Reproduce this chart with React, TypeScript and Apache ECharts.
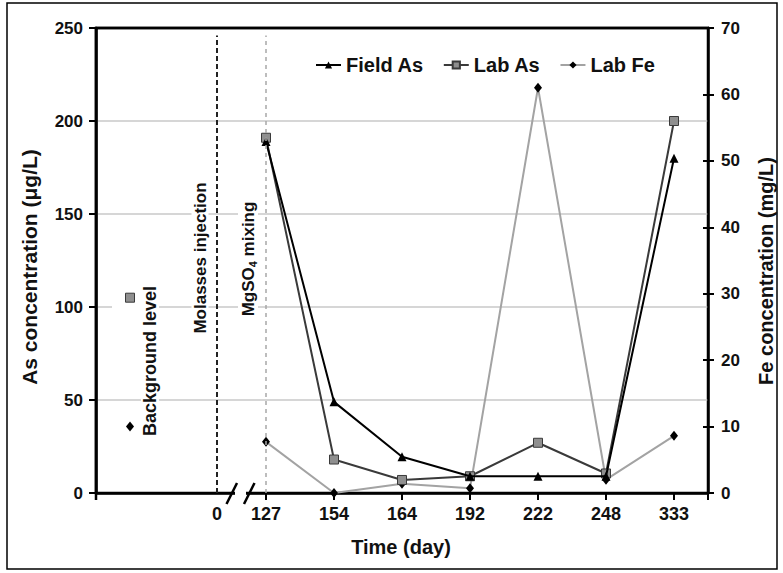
import React, { useEffect, useRef } from "react";
import * as echarts from "echarts";

// ---- data ----
const dayLabels = ["0", "127", "154", "164", "192", "222", "248", "333"];
const sampleDays = ["127", "154", "164", "192", "222", "248", "333"];
const fieldAs = [189, 49, 19.5, 9, 9, 9, 180];
const labAs = [191, 18, 7, 9, 27, 10.5, 200];
const labFe = [7.7, 0, 1.4, 0.7, 61, 2, 8.6];
const backgroundLabAs = 105;
const backgroundLabFe = 10;
const leftTicks = [0, 50, 100, 150, 200, 250];
const rightTicks = [0, 10, 20, 30, 40, 50, 60, 70];

// broken time axis: slot positions on the x scale
const backgroundSlot = 0;
const injectionSlot = 1.28;
const sampleSlots = [2, 3, 4, 5, 6, 7, 8];
const labelSlots = [injectionSlot, ...sampleSlots];

const FONT = '"Liberation Sans", Arial, Helvetica, sans-serif';
const TXT = "#111";

function buildSeriesData(vals: number[], bg: number | null) {
  const out: any[] = [];
  if (bg !== null) {
    out.push([backgroundSlot, bg]);
    out.push([injectionSlot, "-"]);
  }
  vals.forEach((v, i) => out.push([sampleSlots[i], v]));
  return out;
}

export default function App() {
  const ref = useRef<HTMLDivElement>(null);
  useEffect(() => {
    if (!ref.current) return;
    const chart = echarts.init(ref.current, undefined, { renderer: "svg" });
    const labelFor = (v: number) => {
      const idx = labelSlots.findIndex((s) => Math.abs(s - v) < 1e-6);
      return idx >= 0 ? dayLabels[idx] : "";
    };
    const option: any = {
      animation: false,
      backgroundColor: "#fff",
      textStyle: { fontFamily: FONT },
      grid: {
        left: 96,
        right: 75,
        top: 28,
        bottom: 80,
        show: true,
        borderColor: "#000",
        borderWidth: 2.5,
        backgroundColor: "transparent",
      },
      legend: {
        left: 310,
        top: 50,
        itemWidth: 25,
        itemHeight: 9,
        itemGap: 19,
        textStyle: { fontFamily: FONT, fontSize: 20, fontWeight: "bold", color: TXT },
        data: ["Field As", "Lab As", "Lab Fe"],
      },
      xAxis: {
        type: "value",
        min: -0.5,
        max: 8.5,
        axisLine: { onZero: false, lineStyle: { color: "#000", width: 2.5 } },
        axisTick: {
          show: true,
          length: 7,
          customValues: [-0.5, ...sampleSlots, 8.5],
          lineStyle: { color: "#000", width: 2 },
        },
        axisLabel: {
          customValues: labelSlots,
          formatter: (v: number) => labelFor(v),
          fontFamily: FONT,
          fontSize: 18,
          fontWeight: "bold",
          color: TXT,
          margin: 12,
        },
        splitLine: { show: false },
      },
      yAxis: [
        {
          type: "value",
          min: leftTicks[0],
          max: leftTicks[leftTicks.length - 1],
          interval: 50,
          position: "left",
          axisLine: { show: true, onZero: false, lineStyle: { color: "#000", width: 2.5 } },
          axisTick: { show: true, length: 7, lineStyle: { color: "#000", width: 2 } },
          axisLabel: { fontFamily: FONT, fontSize: 17, fontWeight: "bold", color: TXT, margin: 13 },
          splitLine: {
            show: true,
            showMinLine: false,
            showMaxLine: false,
            lineStyle: { color: "#c8c8c8", width: 1.5 },
          },
        },
        {
          type: "value",
          min: rightTicks[0],
          max: rightTicks[rightTicks.length - 1],
          interval: 10,
          position: "right",
          axisLine: { show: true, onZero: false, lineStyle: { color: "#000", width: 2.5 } },
          axisTick: { show: true, length: 6, lineStyle: { color: "#000", width: 2 } },
          axisLabel: { fontFamily: FONT, fontSize: 17, fontWeight: "bold", color: TXT, margin: 13 },
          splitLine: { show: false },
        },
        {
          type: "value",
          min: rightTicks[0],
          max: rightTicks[rightTicks.length - 1],
          interval: 10,
          position: "right",
          axisLine: { show: false, onZero: false },
          axisTick: { show: true, inside: true, length: 5, lineStyle: { color: "#000", width: 2 } },
          axisLabel: { show: false },
          splitLine: { show: false },
        },
      ],
      series: [
        {
          name: "Lab Fe",
          type: "line",
          yAxisIndex: 1,
          data: buildSeriesData(labFe, backgroundLabFe),
          symbol: "diamond",
          symbolSize: [8, 10],
          itemStyle: { color: "#000" },
          lineStyle: { color: "#a3a3a3", width: 2 },
          z: 2,
        },
        {
          name: "Lab As",
          type: "line",
          yAxisIndex: 0,
          data: buildSeriesData(labAs, backgroundLabAs),
          symbol: "rect",
          symbolSize: 9,
          itemStyle: { color: "#8f8f8f", borderColor: "#3a3a3a", borderWidth: 1 },
          lineStyle: { color: "#3a3a3a", width: 2 },
          z: 3,
          markLine: {
            silent: true,
            symbol: "none",
            label: { show: false },
            data: [
              [
                { coord: [injectionSlot, 0], lineStyle: { color: "#222", width: 2, type: [5, 3] } },
                { coord: [injectionSlot, 246] },
              ],
              [
                { coord: [sampleSlots[0], 0], lineStyle: { color: "#a8a8a8", width: 1.5, type: [4, 4] } },
                { coord: [sampleSlots[0], 246] },
              ],
            ],
          },
        },
        {
          name: "Field As",
          type: "line",
          yAxisIndex: 0,
          data: buildSeriesData(fieldAs, null),
          symbol: "triangle",
          symbolSize: 9,
          itemStyle: { color: "#000" },
          lineStyle: { color: "#000", width: 2 },
          z: 4,
        },
      ],
      graphic: [
        {
          type: "rect",
          z: -10,
          silent: true,
          shape: { x: 7, y: 3, width: 770, height: 566 },
          style: { fill: "none", stroke: "#000", lineWidth: 1.5 },
        },
        {
          type: "line",
          z: 20,
          silent: true,
          shape: { x1: 95, y1: 28, x2: 709, y2: 28 },
          style: { stroke: "#000", lineWidth: 2.5 },
        },
        {
          type: "line",
          z: 20,
          silent: true,
          shape: { x1: 96, y1: 27, x2: 96, y2: 500 },
          style: { stroke: "#000", lineWidth: 2.5 },
        },
        {
          type: "rect",
          z: 1,
          silent: true,
          shape: { x: 112, y: 303, width: 30, height: 8 },
          style: { fill: "#fff" },
        },
        {
          type: "text",
          z: 1,
          x: 150,
          y: 361,
          rotation: Math.PI / 2,
          style: {
            text: "Background level",
            fontFamily: FONT,
            fontSize: 18,
            fontWeight: "bold",
            fill: TXT,
            align: "center",
            verticalAlign: "middle",
            backgroundColor: "#fff",
            padding: [0, 3],
          },
        },
        {
          type: "text",
          z: 1,
          x: 200,
          y: 258,
          rotation: Math.PI / 2,
          style: {
            text: "Molasses injection",
            fontFamily: FONT,
            fontSize: 17,
            fontWeight: "bold",
            fill: TXT,
            align: "center",
            verticalAlign: "middle",
            backgroundColor: "#fff",
            padding: [0, 3],
          },
        },
        {
          type: "text",
          z: 1,
          x: 248,
          y: 259,
          rotation: Math.PI / 2,
          style: {
            text: "{a|MgSO}{b|4}{a| mixing}",
            fontFamily: FONT,
            fontSize: 17,
            fontWeight: "bold",
            fill: TXT,
            align: "center",
            verticalAlign: "middle",
            backgroundColor: "#fff",
            padding: [0, 3],
            rich: {
              a: { fontFamily: FONT, fontSize: 17, fontWeight: "bold", fill: TXT, lineHeight: 20, verticalAlign: "middle" },
              b: { fontFamily: FONT, fontSize: 11, fontWeight: "bold", fill: TXT, lineHeight: 12, padding: [9, 0, 0, 0], verticalAlign: "middle" },
            },
          },
        },
        {
          type: "text",
          z: 5,
          x: 29,
          y: 267,
          rotation: Math.PI / 2,
          style: {
            text: "As concentration (μg/L)",
            fontFamily: FONT,
            fontSize: 21,
            fontWeight: "bold",
            fill: TXT,
            align: "center",
            verticalAlign: "middle",
          },
        },
        {
          type: "text",
          z: 5,
          x: 766,
          y: 271,
          rotation: Math.PI / 2,
          style: {
            text: "Fe concentration (mg/L)",
            fontFamily: FONT,
            fontSize: 20,
            fontWeight: "bold",
            fill: TXT,
            align: "center",
            verticalAlign: "middle",
          },
        },
        {
          type: "text",
          z: 5,
          x: 401,
          y: 547,
          style: {
            text: "Time (day)",
            fontFamily: FONT,
            fontSize: 20,
            fontWeight: "bold",
            fill: TXT,
            align: "center",
            verticalAlign: "middle",
          },
        },
        // axis break
        {
          type: "rect",
          z: 20,
          silent: true,
          shape: { x: 235, y: 489, width: 11, height: 8 },
          style: { fill: "#fff" },
        },
        {
          type: "line",
          z: 21,
          silent: true,
          shape: { x1: 226.5, y1: 504, x2: 237, y2: 483 },
          style: { stroke: "#000", lineWidth: 2.5 },
        },
        {
          type: "line",
          z: 21,
          silent: true,
          shape: { x1: 244, y1: 504, x2: 254.5, y2: 483 },
          style: { stroke: "#000", lineWidth: 2.5 },
        },
      ],
    };
    chart.setOption(option);
    return () => chart.dispose();
  }, []);
  return (
    <div
      ref={ref}
      style={{ position: "fixed", left: 0, top: 0, width: 783, height: 573, background: "#fff" }}
    />
  );
}
